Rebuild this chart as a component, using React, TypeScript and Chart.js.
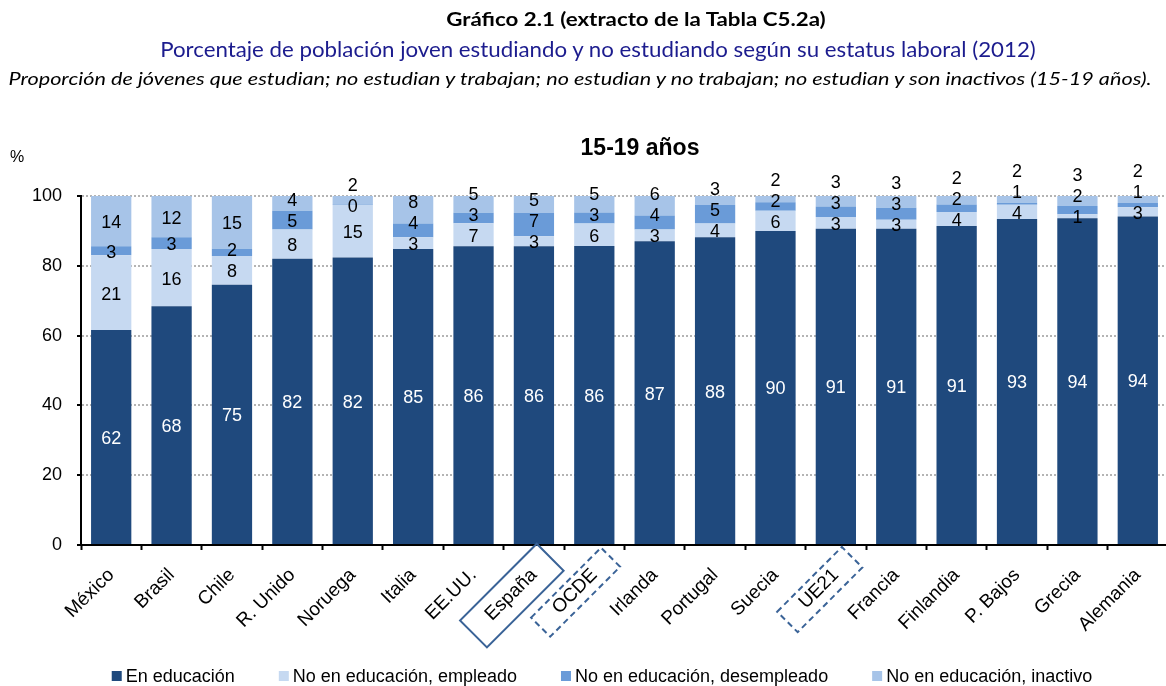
import React, { useEffect, useLayoutEffect, useRef } from "react";
import { Chart, registerables } from "chart.js";

Chart.register(...registerables);

// ---------- data ----------
const categories = [
  "México", "Brasil", "Chile", "R. Unido", "Noruega", "Italia", "EE.UU.", "España", "OCDE",
  "Irlanda", "Portugal", "Suecia", "UE21", "Francia", "Finlandia", "P. Bajos", "Grecia", "Alemania",
];
const enEducacion = [61.6, 68.4, 74.6, 82.0, 82.4, 84.8, 85.6, 85.6, 85.7, 87.0, 88.2, 90.0, 90.6, 90.6, 91.4, 93.4, 93.6, 94.1];
const empleado = [21.4, 16.4, 8.2, 8.4, 15.0, 3.4, 6.6, 2.9, 6.4, 3.4, 3.9, 5.8, 3.4, 2.6, 4.0, 4.1, 1.2, 2.7];
const desempleado = [2.6, 3.4, 2.1, 5.4, 0.2, 3.9, 3.0, 6.6, 3.2, 4.0, 5.3, 2.4, 3.0, 3.4, 2.2, 0.6, 2.3, 1.2];
const inactivo = [14.4, 11.8, 15.1, 4.2, 2.4, 7.9, 4.8, 4.9, 4.7, 5.6, 2.6, 1.8, 3.0, 3.4, 2.4, 1.9, 2.9, 2.0];
const seriesNames = [
  "En educación",
  "No en educación, empleado",
  "No en educación, desempleado",
  "No en educación, inactivo",
];
const yTicks = [0, 20, 40, 60, 80, 100];

const titleText = "Gráfico 2.1 (extracto de la Tabla C5.2a)";
const subtitleText = "Porcentaje de población joven estudiando y no estudiando según su estatus laboral (2012)";
const noteText = "Proporción de jóvenes que estudian; no estudian y trabajan; no estudian y no trabajan; no estudian y son inactivos (15-19 años).";
const chartTitle = "15-19 años";
const axisUnit = "%";

// ---------- styles ----------
const seriesColors = ["#1F497D", "#C6D9F1", "#6A9BD8", "#A7C4E8"];
const labelColors = ["#FFFFFF", "#000000", "#000000", "#000000"];
const FONT = "'Liberation Sans', Arial, sans-serif";
const HEAD_FONT = "Lato, 'Open Sans', sans-serif";
const X_FONT_SIZE = 19;
const highlighted: Record<string, { dashed: boolean; thick: number }> = {
  "España": { dashed: false, thick: 38 },
  "OCDE": { dashed: true, thick: 27 },
  "UE21": { dashed: true, thick: 29 },
};

const W = 1168;
const H = 686;

const overlayPlugin = {
  id: "overlay",
  afterDatasetsDraw(chart: any) {
    const ctx = chart.ctx as CanvasRenderingContext2D;
    ctx.save();
    ctx.font = `18px ${FONT}`;
    ctx.textAlign = "center";
    ctx.textBaseline = "middle";
    const n = chart.data.labels.length;
    const gap = 21;
    for (let i = 0; i < n; i++) {
      let prev = Infinity;
      chart.data.datasets.forEach((ds: any, d: number) => {
        const el = chart.getDatasetMeta(d).data[i] as any;
        if (!el) return;
        let cy = (el.y + el.base) / 2 + 2;
        if (d > 0 && cy > prev - gap) cy = prev - gap;
        prev = cy;
        ctx.fillStyle = labelColors[d];
        ctx.fillText(String(Math.round(ds.data[i])), el.x, cy);
      });
    }
    ctx.restore();
  },
  afterDraw(chart: any) {
    const ctx = chart.ctx as CanvasRenderingContext2D;
    const xs = chart.scales.x;
    const ys = chart.scales.y;
    ctx.save();
    // chart title
    ctx.fillStyle = "#000";
    ctx.font = `bold 23px ${FONT}`;
    ctx.textAlign = "center";
    ctx.textBaseline = "middle";
    ctx.fillText(chartTitle, 640, ys.top - 47);
    // unit
    ctx.font = `16px ${FONT}`;
    ctx.fillText(axisUnit, 17, ys.top - 38);

    // highlight boxes around category labels
    ctx.font = `${X_FONT_SIZE}px ${FONT}`;
    const lh = X_FONT_SIZE * 1.2;
    const ay = xs.top + 5 + 14 + (lh / 2) * Math.SQRT1_2;
    categories.forEach((c, i) => {
      const h = highlighted[c];
      if (!h) return;
      const tw = ctx.measureText(c).width;
      const ax = xs.getPixelForTick(i);
      ctx.save();
      ctx.translate(ax, ay);
      ctx.rotate(-Math.PI / 4);
      ctx.strokeStyle = "#3A6397";
      ctx.lineWidth = 2;
      ctx.setLineDash(h.dashed ? [6, 4] : []);
      const len = tw + 44;
      ctx.strokeRect(-tw / 2 - len / 2, -h.thick / 2 + 1, len, h.thick);
      ctx.restore();
    });

    // legend
    ctx.font = `18px ${FONT}`;
    ctx.textAlign = "left";
    ctx.textBaseline = "middle";
    const itemGap = 44;
    const widths = seriesNames.map((s) => 14 + ctx.measureText(s).width);
    const total = widths.reduce((a, b) => a + b, 0) + itemGap * (seriesNames.length - 1);
    let x = 602 - total / 2;
    const ly = 676;
    seriesNames.forEach((s, k) => {
      ctx.fillStyle = seriesColors[k];
      ctx.fillRect(x, ly - 5, 10, 10);
      ctx.fillStyle = "#000";
      ctx.fillText(s, x + 14, ly + 1);
      x += widths[k] + itemGap;
    });
    ctx.restore();
  },
};

function Header() {
  const refs = [useRef<HTMLDivElement>(null), useRef<HTMLDivElement>(null), useRef<HTMLDivElement>(null)];
  const lines = [
    { text: titleText, cx: 635.5, cy: 18, w: 379, style: { fontWeight: 700, fontSize: 19, color: "#000" } },
    { text: subtitleText, cx: 598, cy: 48, w: 876, style: { fontSize: 21, color: "#1C1C8E" } },
    { text: noteText, cx: 579.5, cy: 78, w: 1143, style: { fontSize: 18, fontStyle: "italic", color: "#000" } },
  ];
  useLayoutEffect(() => {
    const fit = () => {
      refs.forEach((r, k) => {
        const el = r.current;
        if (!el) return;
        const nat = el.offsetWidth;
        if (nat > 0) el.style.transform = `translate(-50%, -50%) scaleX(${lines[k].w / nat})`;
      });
    };
    fit();
    if ((document as any).fonts?.ready) (document as any).fonts.ready.then(fit);
  }, []);
  return (
    <>
      {lines.map((l, k) => (
        <div
          key={k}
          ref={refs[k]}
          style={{
            position: "absolute",
            left: l.cx,
            top: l.cy,
            whiteSpace: "nowrap",
            fontFamily: HEAD_FONT,
            lineHeight: 1,
            transform: "translate(-50%, -50%)",
            ...(l.style as any),
          }}
        >
          {l.text}
        </div>
      ))}
    </>
  );
}

export default function App() {
  const canvasRef = useRef<HTMLCanvasElement>(null);
  useEffect(() => {
    const canvas = canvasRef.current;
    if (!canvas) return;
    const series = [enEducacion, empleado, desempleado, inactivo];
    const chart = new Chart(canvas, {
      type: "bar",
      data: {
        labels: categories,
        datasets: series.map((d, k) => ({
          label: seriesNames[k],
          data: d,
          backgroundColor: seriesColors[k],
          borderWidth: 0,
          barPercentage: 0.667,
          categoryPercentage: 1,
        })),
      },
      options: {
        responsive: false,
        animation: false,
        devicePixelRatio: 1,
        layout: { padding: { top: 196, right: 0, bottom: 0, left: 0 } },
        plugins: {
          legend: { display: false },
          tooltip: { enabled: false },
          title: { display: false },
        },
        scales: {
          x: {
            stacked: true,
            grid: {
              display: true,
              drawOnChartArea: false,
              drawTicks: true,
              tickLength: 5,
              tickColor: "#000",
              tickWidth: 2,
              offset: true,
            },
            border: { display: true, color: "#000", width: 2 },
            ticks: {
              autoSkip: false,
              minRotation: 45,
              maxRotation: 45,
              padding: 14,
              color: "#000",
              font: { family: FONT, size: X_FONT_SIZE },
            },
            afterFit: (s: any) => {
              s.height = H - 545;
              s.paddingLeft = 0;
              s.paddingRight = 0;
            },
          },
          y: {
            stacked: true,
            min: 0,
            max: 100,
            grid: {
              color: "#B4B4B4",
              lineWidth: 2,
              tickLength: 4,
              tickColor: "#000",
              tickWidth: 2,
            },
            border: { display: true, color: "#000", width: 2, dash: [2, 2] },
            ticks: {
              padding: 15,
              color: "#000",
              font: { family: FONT, size: 18 },
            },
            afterBuildTicks: (s: any) => {
              s.ticks = yTicks.map((v) => ({ value: v }));
            },
            afterFit: (s: any) => {
              s.width = 81;
            },
          },
        },
      },
      plugins: [overlayPlugin],
    } as any);
    return () => chart.destroy();
  }, []);

  return (
    <div
      style={{
        position: "fixed",
        left: 0,
        top: 0,
        width: 1166,
        height: 686,
        overflow: "hidden",
        background: "#fff",
      }}
    >
      <canvas
        ref={canvasRef}
        width={W}
        height={H}
        style={{ position: "absolute", left: 0, top: 0, width: W, height: H }}
      />
      <Header />
    </div>
  );
}
